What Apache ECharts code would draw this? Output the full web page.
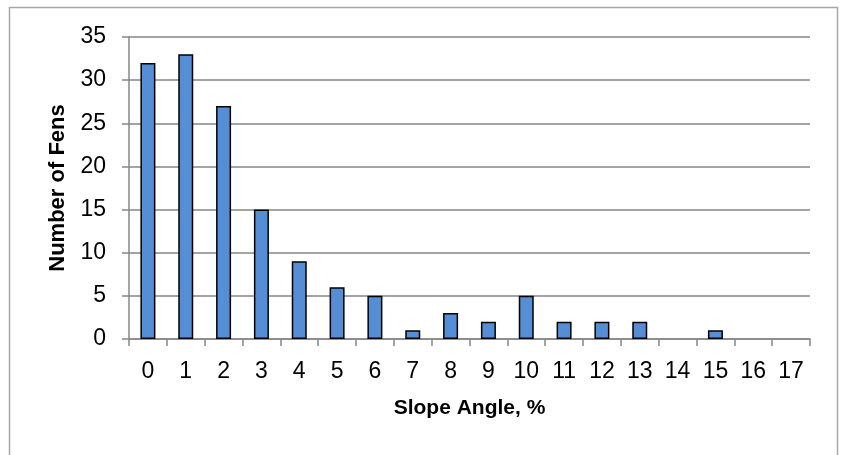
<!DOCTYPE html>
<html>
<head>
<meta charset="utf-8">
<script src="https://cdn.jsdelivr.net/npm/echarts@6/dist/echarts.min.js"></script>
<style>
html,body{margin:0;padding:0;background:#fff;}
#c{width:842px;height:455px;}
</style>
</head>
<body>
<div id="c"></div>
<script>
const categories = ['0','1','2','3','4','5','6','7','8','9','10','11','12','13','14','15','16','17'];
const fenCounts = [32,33,27,15,9,6,5,1,3,2,5,2,2,2,0,1,0,0];
const yTicks = [0,5,10,15,20,25,30,35];

const FONT = '"Liberation Sans", Arial, sans-serif';
const chart = echarts.init(document.getElementById('c'), null, {renderer:'canvas'});
chart.setOption({
  animation: false,
  backgroundColor: '#fff',
  graphic: [{
    type: 'rect',
    shape: {x: 9.5, y: 7.5, width: 828, height: 470},
    style: {fill: 'none', stroke: '#a6a6a6', lineWidth: 1.5},
    silent: true
  }],
  grid: {left: 129, right: 32, top: 37, bottom: 116, containLabel: false},
  xAxis: {
    type: 'category',
    data: categories,
    boundaryGap: true,
    name: 'Slope Angle, %',
    nameLocation: 'middle',
    nameGap: 59,
    nameTextStyle: {fontFamily: FONT, fontWeight: 'bold', fontSize: 21, color: '#000'},
    axisLine: {lineStyle: {color: '#868686', width: 1.5}},
    axisTick: {show: true, alignWithLabel: false, length: 7, lineStyle: {color: '#868686', width: 1.5}},
    axisLabel: {fontFamily: FONT, fontSize: 23, color: '#000', margin: 21, interval: 0}
  },
  yAxis: {
    type: 'value',
    min: 0, max: 35, interval: 5,
    name: 'Number of Fens',
    nameLocation: 'middle',
    nameGap: 60,
    nameRotate: 90,
    nameTextStyle: {fontFamily: FONT, fontWeight: 'bold', fontSize: 22, color: '#000'},
    axisLine: {show: true, lineStyle: {color: '#868686', width: 1.5}},
    axisTick: {show: true, length: 7, lineStyle: {color: '#868686', width: 1.5}},
    axisLabel: {fontFamily: FONT, fontSize: 23, color: '#000', margin: 23,
      formatter: v => yTicks.includes(v) ? String(v) : ''},
    splitLine: {show: true, lineStyle: {color: '#868686', width: 1.5}}
  },
  series: [{
    type: 'bar',
    data: fenCounts.map(v => v === 0 ? {value: v, itemStyle: {borderWidth: 0}} : v),
    barWidth: 15,
    itemStyle: {color: '#558ed5', borderColor: '#000', borderWidth: 1.5}
  }]
});
</script>
</body>
</html>
